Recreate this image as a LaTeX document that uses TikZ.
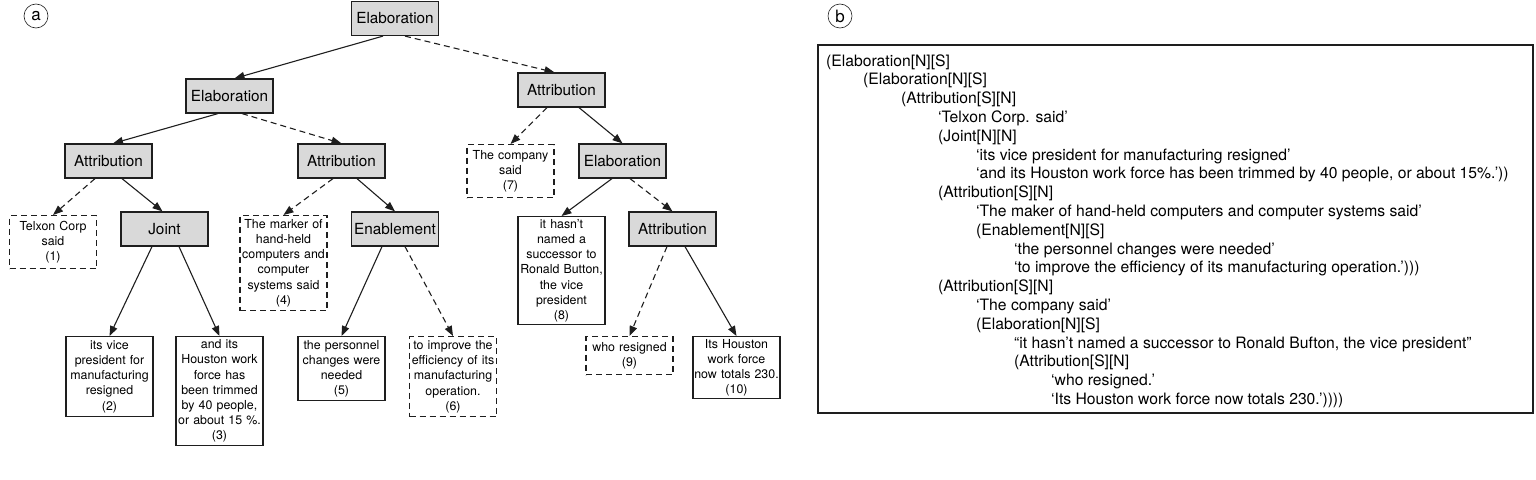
\documentclass[tikz,border=0pt]{standalone}
\usepackage{fontspec}
\setmainfont{TeX Gyre Heros}
\usetikzlibrary{arrows.meta}
\definecolor{nodefill}{RGB}{217,217,217}
\definecolor{linecol}{RGB}{30,30,30}
\begin{document}
\begin{tikzpicture}[x=1pt,y=-1pt,
  inode/.style={draw=linecol, fill=nodefill, line width=1.2pt, minimum width=87pt, minimum height=34pt, inner sep=0pt, font=\fontsize{15.3}{18}\selectfont},
  leaf/.style={draw=linecol, line width=1.2pt, text width=85pt, inner xsep=1pt, inner ysep=0pt, align=center, anchor=north, font=\fontsize{12.4}{15.2}\selectfont},
  dleaf/.style={leaf, dash pattern=on 6pt off 4pt},
  sol/.style={draw=linecol, line width=1.1pt, -{Triangle[length=10pt,width=7.5pt]}},
  dsh/.style={sol, dash pattern=on 6pt off 4pt},
  lin/.style={anchor=base west, inner sep=0pt, font=\fontsize{15.7}{18.8}\selectfont},
  lab/.style={circle, draw=linecol, line width=0.6pt, minimum size=24pt, inner sep=0pt, font=\fontsize{17}{17}\selectfont},
]
\useasboundingbox (0,0) rectangle (1536,479);

% panel labels
\node[lab] (la) at (36,16) {a};
\node[lab] (lb) at (840,16) {b};

% internal nodes
\node[inode] (E0)  at (395,18.5) {Elaboration};
\node[inode] (E1)  at (229.5,96) {Elaboration};
\node[inode] (AL)  at (108.5,161) {Attribution};
\node[inode] (AM)  at (341.5,161) {Attribution};
\node[inode] (J)   at (164.5,229) {Joint};
\node[inode] (En)  at (395,229) {Enablement};
\node[inode] (AR)  at (561.5,90) {Attribution};
\node[inode] (ER)  at (622.5,161) {Elaboration};
\node[inode] (AR2) at (672.5,229) {Attribution};

% leaves
\node[dleaf, minimum height=53pt]  (L1)  at (53,215)    {Telxon Corp\\said\\(1)};
\node[leaf,  minimum height=80pt]  (L2)  at (109.5,336) {its vice\\president for\\manufacturing\\resigned\\(2)};
\node[leaf,  minimum height=109pt] (L3)  at (219.5,336) {and its\\Houston work\\force has\\been trimmed\\by 40 people,\\or about 15 \%.\\(3)};
\node[dleaf, minimum height=95pt]  (L4)  at (283.5,215) {The marker of\\hand-held\\computers and\\computer\\systems said\\(4)};
\node[leaf,  minimum height=64pt]  (L5)  at (341.5,336) {the personnel\\changes were\\needed\\(5)};
\node[dleaf, minimum height=80pt]  (L6)  at (453,336)   {to improve the\\efficiency of its\\manufacturing\\operation.\\(6)};
\node[dleaf, minimum height=53pt]  (L7)  at (510.5,144) {The company\\said\\(7)};
\node[leaf,  minimum height=108pt] (L8)  at (561.5,216) {it hasn’t\\named a\\successor to\\Ronald Button,\\the vice\\president\\(8)};
\node[dleaf, minimum height=38pt]  (L9)  at (629.5,336) {who resigned\\(9)};
\node[leaf,  minimum height=62pt]  (L10) at (736.5,336) {Its Houston\\work force\\now totals 230.\\(10)};

% edges
\draw[sol] ([xshift=-12pt]E0.south)   -- ([xshift=5pt]E1.north);
\draw[dsh] ([xshift=10pt]E0.south)    -- ([xshift=-7pt]AR.north);
\draw[sol] ([xshift=-11.5pt]E1.south) -- ([xshift=4.5pt]AL.north);
\draw[dsh] ([xshift=12.5pt]E1.south)  -- (AM.north);
\draw[dsh] ([xshift=-13.5pt]AL.south) -- (L1.north);
\draw[sol] ([xshift=13.5pt]AL.south)  -- ([xshift=-2pt]J.north);
\draw[dsh] ([xshift=-8.5pt]AM.south)  -- (L4.north);
\draw[sol] ([xshift=15.5pt]AM.south)  -- (En.north);
\draw[sol] ([xshift=-12.5pt]J.south)  -- (L2.north);
\draw[sol] ([xshift=14.5pt]J.south)   -- (L3.north);
\draw[sol] ([xshift=-13pt]En.south)   -- (L5.north);
\draw[dsh] ([xshift=10pt]En.south)    -- (L6.north);
\draw[dsh] ([xshift=-14.5pt]AR.south) -- (L7.north);
\draw[sol] ([xshift=17.5pt]AR.south)  -- (ER.north);
\draw[sol] ([xshift=-10.5pt]ER.south) -- (L8.north);
\draw[dsh] ([xshift=7.5pt]ER.south)   -- (AR2.north);
\draw[dsh] ([xshift=-5.5pt]AR2.south) -- (L9.north);
\draw[sol] ([xshift=12.5pt]AR2.south) -- (L10.north);

% right panel
\draw[draw=linecol, line width=1.2pt] (818,45) rectangle (1533,413);
\node[lin] (t1)  at (826,66)      {(Elaboration[N][S]};
\node[lin] (t2)  at (863,84.8)    {(Elaboration[N][S]};
\node[lin] (t3)  at (901,103.6)   {(Attribution[S][N]};
\node[lin] (t4)  at (938,122.4)   {‘Telxon Corp. said’};
\node[lin] (t5)  at (938,141.2)   {(Joint[N][N]};
\node[lin] (t6)  at (976,160)     {‘its vice president for manufacturing resigned’};
\node[lin] (t7)  at (976,178.8)   {‘and its Houston work force has been trimmed by 40 people, or about 15\%.’))};
\node[lin] (t8)  at (938,197.6)   {(Attribution[S][N]};
\node[lin] (t9)  at (976,216.4)   {‘The maker of hand-held computers and computer systems said’};
\node[lin] (t10) at (976,235.2)   {(Enablement[N][S]};
\node[lin] (t11) at (1014,254)    {‘the personnel changes were needed’};
\node[lin] (t12) at (1014,272.8)  {‘to improve the efficiency of its manufacturing operation.’)))};
\node[lin] (t13) at (938,291.6)   {(Attribution[S][N]};
\node[lin] (t14) at (976,310.4)   {‘The company said’};
\node[lin] (t15) at (976,329.2)   {(Elaboration[N][S]};
\node[lin] (t16) at (1014,348)    {“it hasn’t named a successor to Ronald Bufton, the vice president”};
\node[lin] (t17) at (1014,366.8)  {(Attribution[S][N]};
\node[lin] (t18) at (1051,385.6)  {‘who resigned.’};
\node[lin] (t19) at (1051,404.4)  {‘Its Houston work force now totals 230.’))))};
\end{tikzpicture}
\end{document}
